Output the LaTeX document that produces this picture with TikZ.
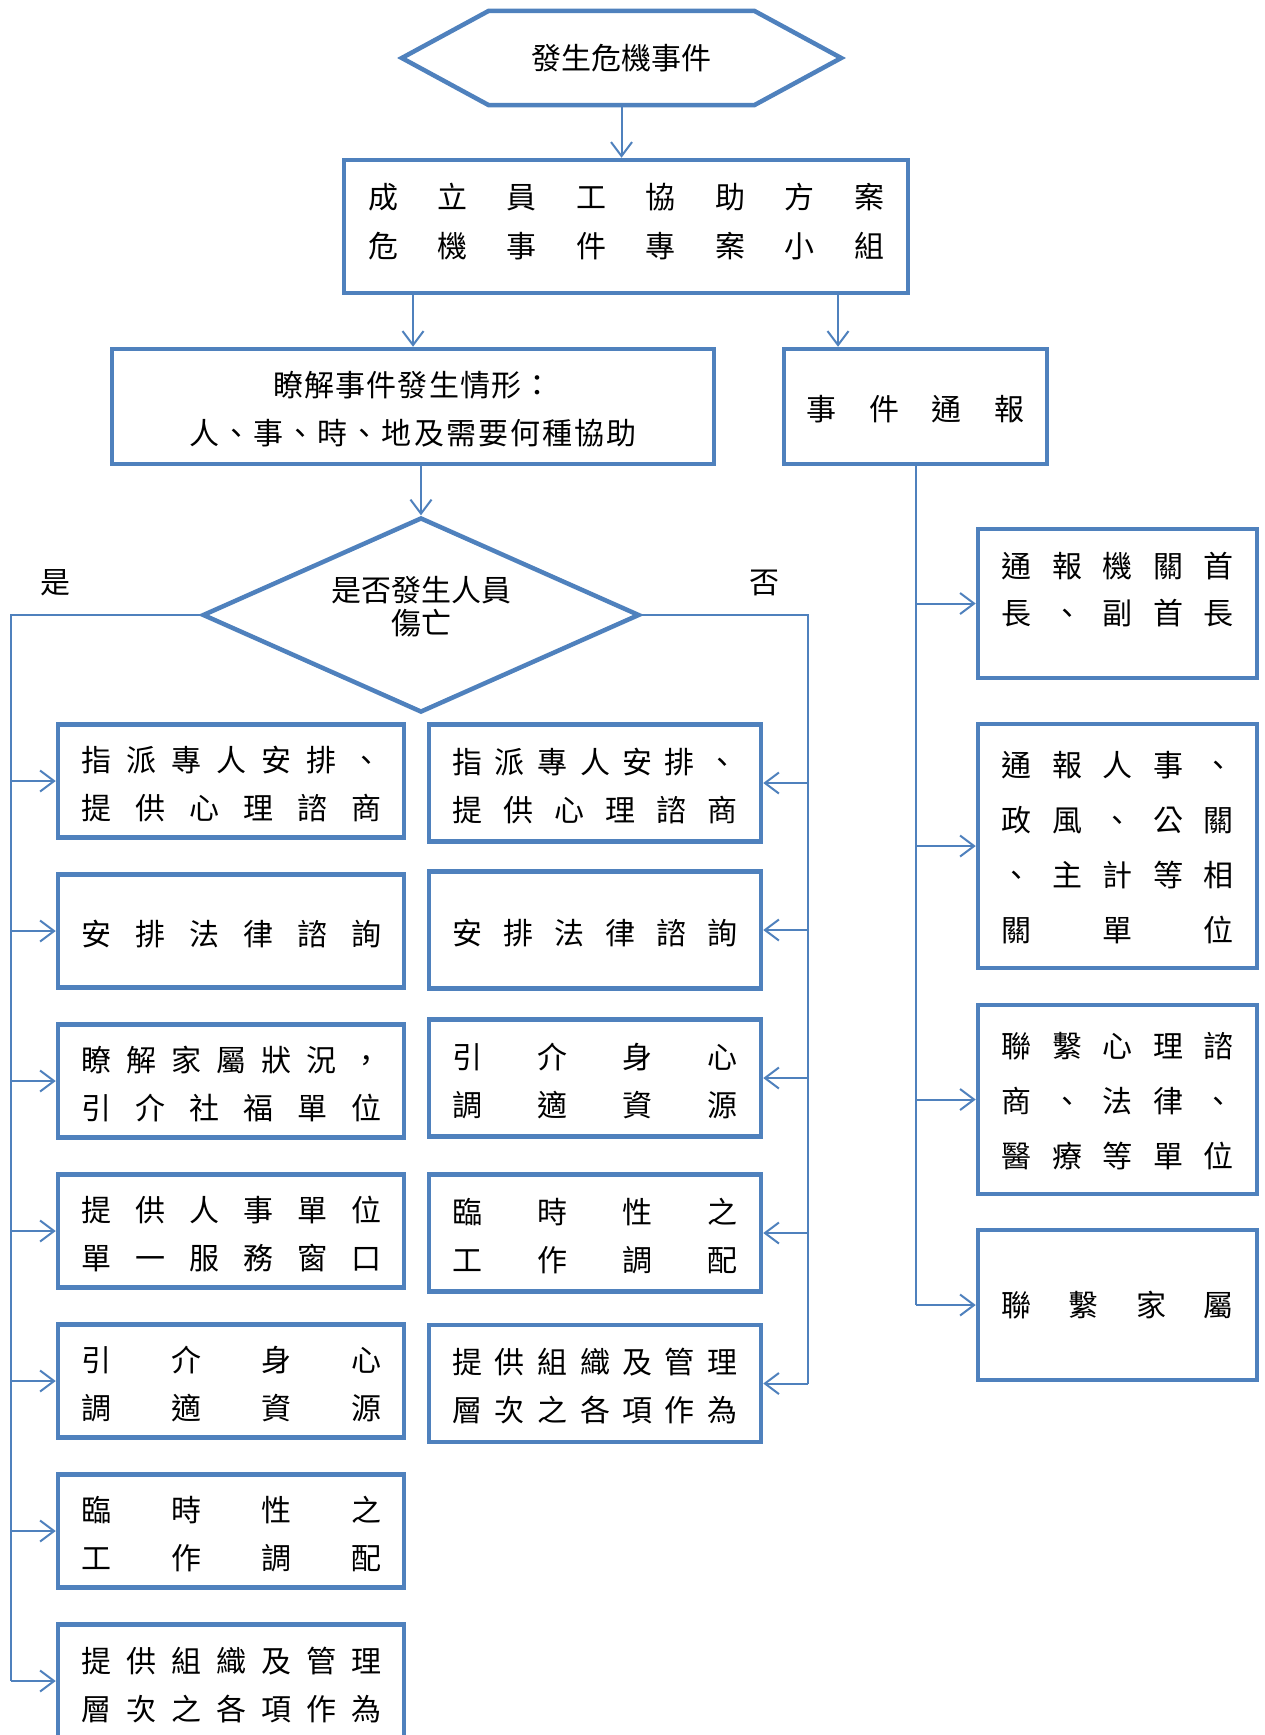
\documentclass[tikz,border=0pt]{standalone}
\usepackage{fontspec}
\setmainfont{Noto Sans CJK TC}
\usetikzlibrary{arrows.meta,shapes.geometric}
\definecolor{flow}{HTML}{4F81BD}
% spread the space-separated characters evenly over a given width,
% optionally lowering the line without changing its reported size
\newcommand\sprd[3][3pt]{\raisebox{-#1}[\height][\depth]{\makebox[#2][s]{\spaceskip=0pt plus 1fil\xspaceskip=0pt plus 1fil\relax #3}}}
\begin{document}
\begin{tikzpicture}[x=1pt,y=-1pt,line join=miter,
  bd/.style={draw=flow,line width=4.5pt},
  box/.style={bd,rectangle,inner sep=0pt,align=center,font=\fontsize{30pt}{48pt}\selectfont},
  txt/.style={inner sep=0pt,align=center,font=\fontsize{30pt}{48pt}\selectfont},
  ln/.style={draw=flow,line width=2pt},
  arr/.style={ln,-{Straight Barb[length=14pt,width=21pt]}},
  lbox/.style={box,minimum width=346pt,minimum height=113pt},
  mbox/.style={box,minimum width=332pt,minimum height=117pt},
  rbox/.style={box,minimum width=279pt},
]
\fill[white] (0,0) rectangle (1265,1735);
\useasboundingbox (0,0) rectangle (1265,1735);

% start: hexagon
\node[txt,minimum width=439pt,minimum height=94pt] (H) at (621.5,58) {發生危機事件};
\draw[bd] (H.west) -- ([xshift=87pt]H.north west) -- ([xshift=-87pt]H.north east)
  -- (H.east) -- ([xshift=-87pt]H.south east) -- ([xshift=87pt]H.south west) -- cycle;

% task force
\node[box,minimum width=564pt,minimum height=133pt,font=\fontsize{30pt}{49pt}\selectfont] (B1) at (626,226.5)
  {\sprd[-4.5pt]{516pt}{成 立 員 工 協 助 方 案}\\\sprd[-4.5pt]{516pt}{危 機 事 件 專 案 小 組}};

% understand the situation / notification
\node[box,minimum width=602pt,minimum height=115pt] (B2) at (413,406.5)
  {\sprd{280pt}{瞭 解 事 件 發 生 情 形 ：}\\\sprd{447pt}{人 、 事 、 時 、 地 及 需 要 何 種 協 助}};
\node[box,minimum width=263pt,minimum height=115pt] (B3) at (915.5,406.5)
  {\sprd{218pt}{事 件 通 報}};

% decision
\node[bd,diamond,minimum width=437pt,minimum height=195pt,inner sep=0pt] (D) at (421,615) {};
\node[txt,font=\fontsize{30pt}{33pt}\selectfont] (Dt) at (421,607) {是否發生人員\\傷亡};
\node[txt] (yes) at (55,583) {是};
\node[txt] (no) at (764,583) {否};

% left column (yes)
\node[lbox] (L1) at (231,781) {\sprd{300pt}{指 派 專 人 安 排 、}\\\sprd{300pt}{提 供 心 理 諮 商}};
\node[lbox] (L2) at (231,931) {\sprd{300pt}{安 排 法 律 諮 詢}};
\node[lbox] (L3) at (231,1081) {\sprd{300pt}{瞭 解 家 屬 狀 況 ，}\\\sprd{300pt}{引 介 社 福 單 位}};
\node[lbox] (L4) at (231,1231) {\sprd{300pt}{提 供 人 事 單 位}\\\sprd{300pt}{單 一 服 務 窗 口}};
\node[lbox] (L5) at (231,1381) {\sprd{300pt}{引 介 身 心}\\\sprd{300pt}{調 適 資 源}};
\node[lbox] (L6) at (231,1531) {\sprd{300pt}{臨 時 性 之}\\\sprd{300pt}{工 作 調 配}};
\node[lbox] (L7) at (231,1681) {\sprd[4pt]{300pt}{提 供 組 織 及 管 理}\\\sprd[4pt]{300pt}{層 次 之 各 項 作 為}};

% middle column (no)
\node[mbox] (M1) at (595,783) {\sprd{285pt}{指 派 專 人 安 排 、}\\\sprd{285pt}{提 供 心 理 諮 商}};
\node[mbox] (M2) at (595,930) {\sprd{285pt}{安 排 法 律 諮 詢}};
\node[mbox] (M3) at (595,1078) {\sprd{285pt}{引 介 身 心}\\\sprd{285pt}{調 適 資 源}};
\node[mbox] (M4) at (595,1233) {\sprd{285pt}{臨 時 性 之}\\\sprd{285pt}{工 作 調 配}};
\node[mbox] (M5) at (595,1383.5) {\sprd{285pt}{提 供 組 織 及 管 理}\\\sprd{285pt}{層 次 之 各 項 作 為}};

% right column (notification)
\node[rbox,minimum height=149pt] (R1) at (1117.5,603.5) {};
\node[txt,font=\fontsize{30pt}{47pt}\selectfont] (R1t) at (1117.5,589.5)
  {\sprd[0pt]{232pt}{通 報 機 關 首}\\\sprd[0pt]{232pt}{長 、 副 首 長}};
\node[rbox,minimum height=244pt,font=\fontsize{30pt}{55pt}\selectfont] (R2) at (1117.5,846)
  {\sprd[1.5pt]{232pt}{通 報 人 事 、}\\\sprd[1.5pt]{232pt}{政 風 、 公 關}\\\sprd[1.5pt]{232pt}{、 主 計 等 相}\\\sprd[1.5pt]{232pt}{關 單 位}};
\node[rbox,minimum height=189pt,font=\fontsize{30pt}{55pt}\selectfont] (R3) at (1117.5,1099.5)
  {\sprd[2pt]{232pt}{聯 繫 心 理 諮}\\\sprd[2pt]{232pt}{商 、 法 律 、}\\\sprd[2pt]{232pt}{醫 療 等 單 位}};
\node[rbox,minimum height=150pt] (R4) at (1117.5,1305) {\sprd[0pt]{232pt}{聯 繫 家 屬}};

% connectors
\coordinate (c1) at (838,0);
\draw[arr] (H.south) -- (H.south |- B1.north);
\draw[arr] (B1.south -| B2.north) -- (B2.north);
\draw[arr] (B1.south -| c1) -- (B3.north -| c1);
\draw[arr] (B2.south -| D.north) -- (D.north);

\coordinate (LT) at (11,615);
\coordinate (LB) at (11,1681);
\draw[ln] (D.west) -- (LT) -- (LB);
\foreach \b in {L1,L2,L3,L4,L5,L6,L7}
  \draw[arr] (\b.west -| LT) -- (\b.west);

\coordinate (RT) at (808,615);
\coordinate (RB) at (808,1383.5);
\draw[ln] (D.east) -- (RT) -- (RB);
\foreach \b in {M1,M2,M3,M4,M5}
  \draw[arr] (\b.east -| RT) -- (\b.east);

\coordinate (ST) at (915.5,1305);
\draw[ln] (B3.south) -- (ST);
\foreach \b in {R1,R2,R3,R4}
  \draw[arr] (\b.west -| ST) -- (\b.west);
\end{tikzpicture}
\end{document}
